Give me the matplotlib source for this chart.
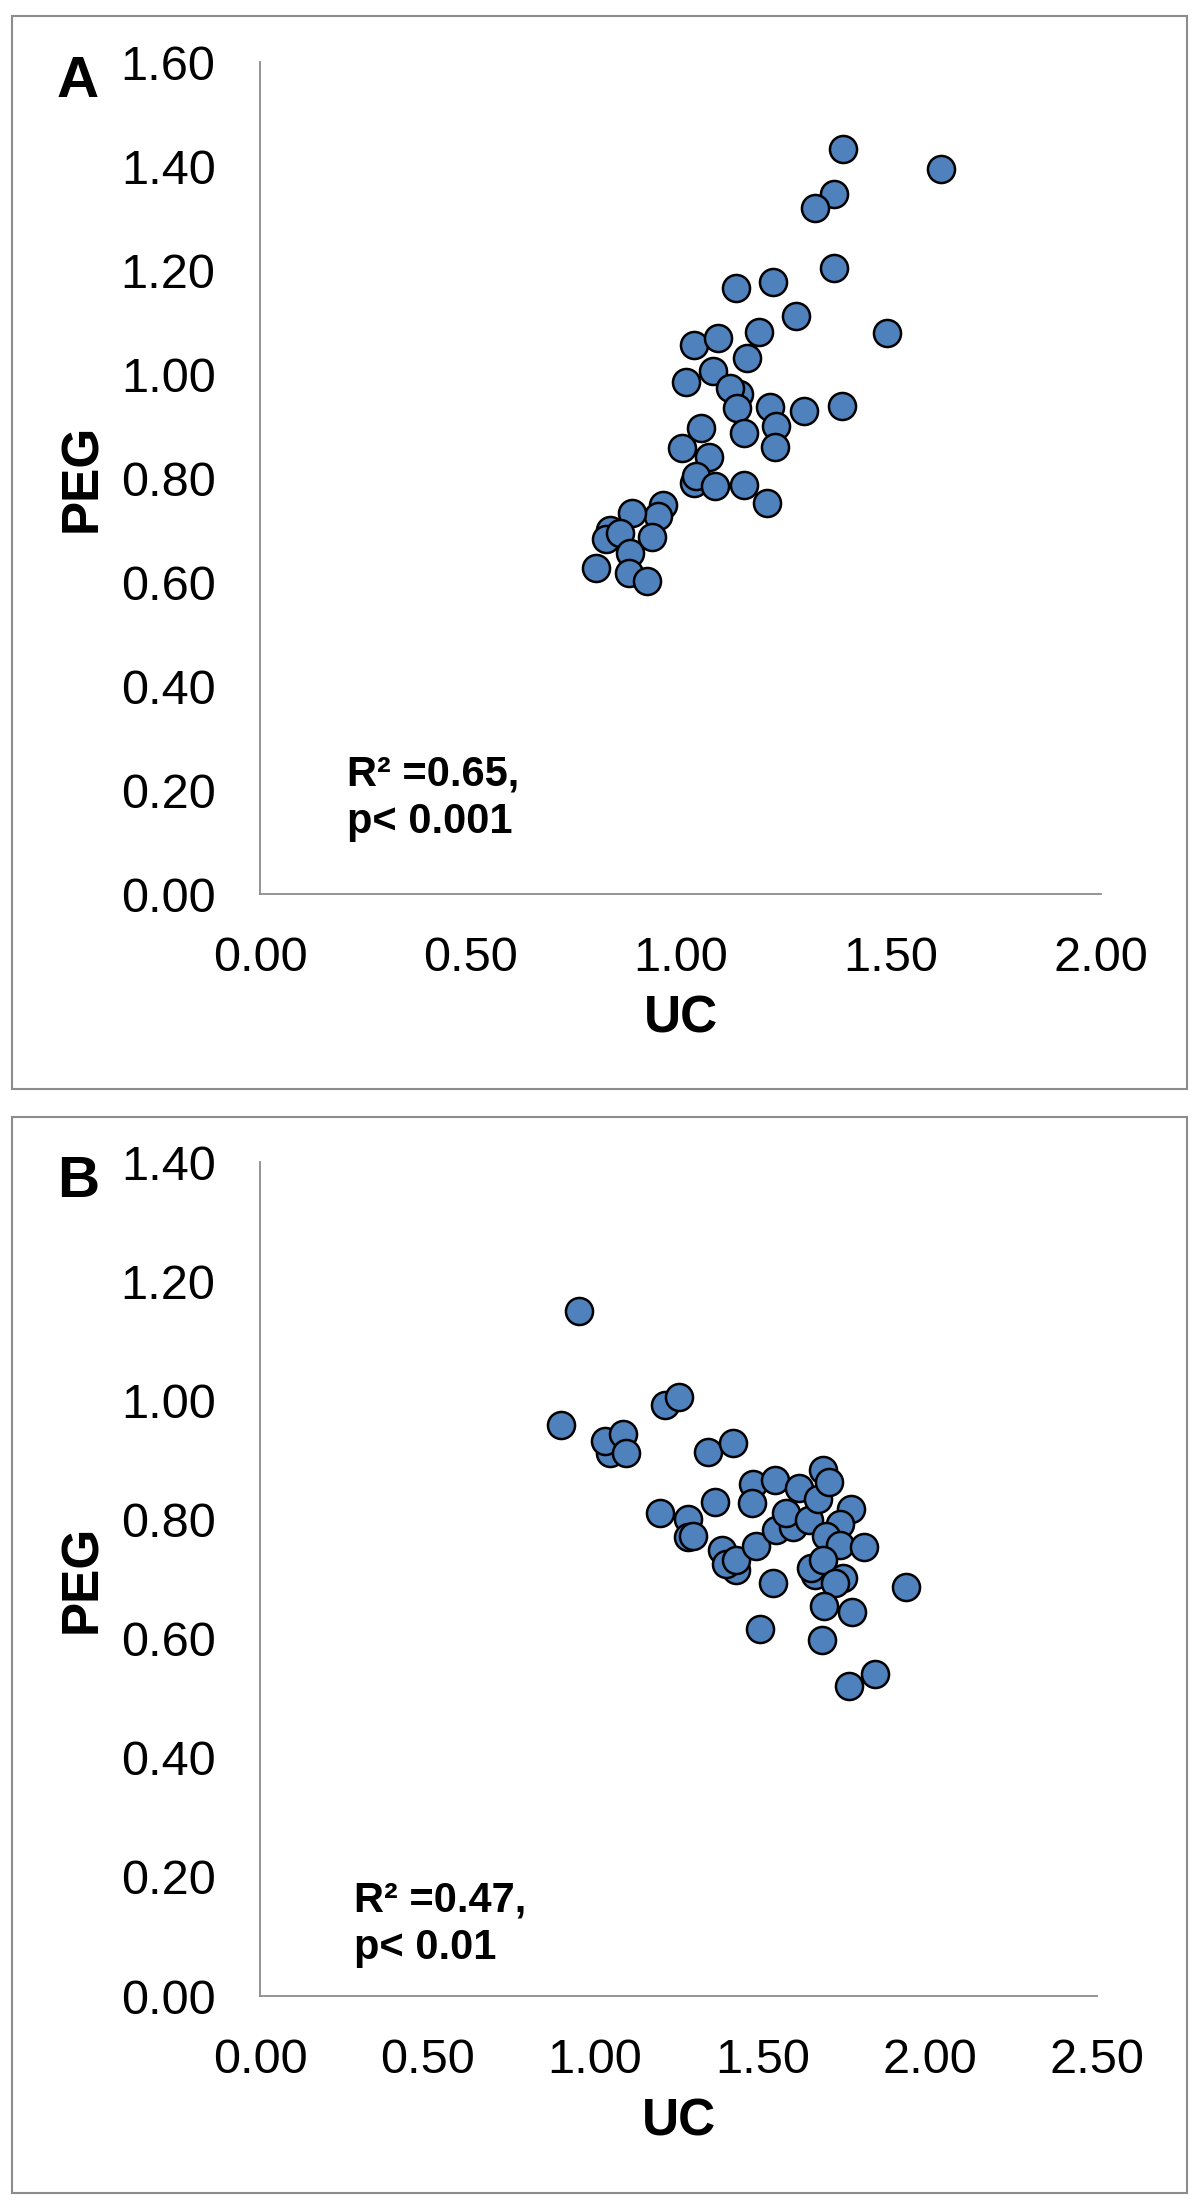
"""
Two stacked scatter panels (A, B): PEG vs UC, Excel-like styling.
Output: out.png (1200 x 2207 px)
"""
import matplotlib
matplotlib.use("Agg")
import matplotlib.pyplot as plt
import matplotlib.patches as mpatches

plt.rcParams.update({
    "font.family": ["Liberation Sans", "DejaVu Sans"],
    "figure.dpi": 100, "savefig.dpi": 100,
})

W, H = 1200, 2207

# ── Data ──────────────────────────────────────────────────────────────────────
uc_a = [1.387, 1.619, 1.365, 1.319, 1.365, 1.133, 1.220, 1.274, 1.492, 1.033,
        1.090, 1.186, 1.157, 1.077, 1.013, 1.139, 1.117, 1.135, 1.214, 1.294,
        1.385, 1.049, 1.152, 1.226, 1.224, 1.004, 1.067, 1.033, 1.038, 1.083,
        1.152, 1.205, 0.959, 0.946, 0.885, 0.933, 0.832, 0.822, 0.857, 0.879,
        0.798, 0.878, 0.921]
peg_a = [1.432, 1.395, 1.347, 1.320, 1.203, 1.166, 1.177, 1.112, 1.079, 1.055,
         1.070, 1.081, 1.030, 1.005, 0.984, 0.961, 0.974, 0.934, 0.936, 0.928,
         0.939, 0.896, 0.887, 0.900, 0.859, 0.858, 0.840, 0.790, 0.803, 0.784,
         0.787, 0.752, 0.749, 0.726, 0.732, 0.687, 0.700, 0.682, 0.694, 0.656,
         0.626, 0.618, 0.602]

uc_b = [0.953, 0.900, 1.211, 1.251, 1.045, 1.030, 1.085, 1.094, 1.338, 1.413,
        1.473, 1.539, 1.471, 1.358, 1.194, 1.279, 1.279, 1.293, 1.381, 1.421,
        1.393, 1.423, 1.480, 1.540, 1.592, 1.572, 1.610, 1.640, 1.667, 1.682,
        1.699, 1.766, 1.731, 1.692, 1.731, 1.803, 1.657, 1.647, 1.682, 1.741,
        1.718, 1.532, 1.684, 1.768, 1.930, 1.494, 1.679, 1.836, 1.759]
peg_b = [1.150, 0.958, 0.992, 1.006, 0.911, 0.931, 0.943, 0.911, 0.913, 0.928,
         0.860, 0.866, 0.827, 0.829, 0.810, 0.801, 0.771, 0.773, 0.748, 0.715,
         0.726, 0.732, 0.756, 0.782, 0.787, 0.810, 0.852, 0.799, 0.835, 0.883,
         0.863, 0.817, 0.792, 0.773, 0.757, 0.753, 0.706, 0.718, 0.732, 0.701,
         0.694, 0.694, 0.654, 0.644, 0.687, 0.616, 0.598, 0.541, 0.521]

xticks_a = [0.0, 0.5, 1.0, 1.5, 2.0]
yticks_a = [0.0, 0.2, 0.4, 0.6, 0.8, 1.0, 1.2, 1.4, 1.6]
xticks_b = [0.0, 0.5, 1.0, 1.5, 2.0, 2.5]
yticks_b = [0.0, 0.2, 0.4, 0.6, 0.8, 1.0, 1.2, 1.4]

stats_a = ("R\u00b2 =0.65,", "p< 0.001")
stats_b = ("R\u00b2 =0.47,", "p< 0.01")

DOT = "#4f81bd"
GRAY = "#8c8c8c"


def fx(px):
    return px / W


def fy(py):
    return 1 - py / H


def panel(fig, box, xticks, yticks, uc, peg, letter, letter_xy, stats, stats_xy,
          ylab_x, xlab_y):
    x0, x1, ytop, ybot = box
    ax = fig.add_axes([fx(x0), fy(ybot), (x1 - x0) / W, (ybot - ytop) / H])
    ax.scatter(uc, peg, s=380, c=DOT, edgecolors="black", linewidths=1.8,
               zorder=3, clip_on=False)
    ax.set_xlim(xticks[0], xticks[-1])
    ax.set_ylim(yticks[0], yticks[-1])
    ax.set_xticks(xticks)
    ax.set_yticks(yticks)
    ax.set_xticklabels([f"{v:.2f}" for v in xticks])
    ax.set_yticklabels([f"{v:.2f}" for v in yticks])
    ax.tick_params(axis="both", length=0, labelsize=35, labelcolor="black")
    ax.tick_params(axis="y", pad=32)
    ax.tick_params(axis="x", pad=30)
    for sp in ("top", "right"):
        ax.spines[sp].set_visible(False)
    for sp in ("bottom", "left"):
        ax.spines[sp].set_color(GRAY)
        ax.spines[sp].set_linewidth(1.3)

    ax.set_xlabel("UC", fontsize=37, fontweight="bold", va="center")
    ax.set_ylabel("PEG", fontsize=37, fontweight="bold", va="center")
    ax.xaxis.set_label_coords(0.5, -(xlab_y - ybot) / (ybot - ytop))
    ax.yaxis.set_label_coords((ylab_x - x0) / (x1 - x0), 0.5)

    fig.text(fx(letter_xy[0]), fy(letter_xy[1]), letter, fontsize=42,
             fontweight="bold", ha="left", va="baseline")
    fig.text(fx(stats_xy[0]), fy(stats_xy[1]), stats[0], fontsize=30,
             fontweight="bold", ha="left", va="baseline")
    fig.text(fx(stats_xy[0]), fy(stats_xy[1] + 48), stats[1], fontsize=30,
             fontweight="bold", ha="left", va="baseline")
    return ax


fig = plt.figure(figsize=(W / 100, H / 100), facecolor="white")

# outer frames around each panel
for top, bot in ((16, 1089), (1117, 2193)):
    fig.add_artist(mpatches.Rectangle((fx(12), fy(bot)), (1187 - 12) / W,
                                      (bot - top) / H, transform=fig.transFigure,
                                      fill=False, edgecolor=GRAY, linewidth=1.5))

panel(fig, (260, 1101, 62, 894), xticks_a, yticks_a, uc_a, peg_a,
      "A", (57, 97), stats_a, (347, 785), 83, 1019)
panel(fig, (260, 1097, 1162, 1996), xticks_b, yticks_b, uc_b, peg_b,
      "B", (57, 1197), stats_b, (354, 1911), 83, 2122)

fig.savefig("out.png", facecolor="white")
plt.close(fig)
